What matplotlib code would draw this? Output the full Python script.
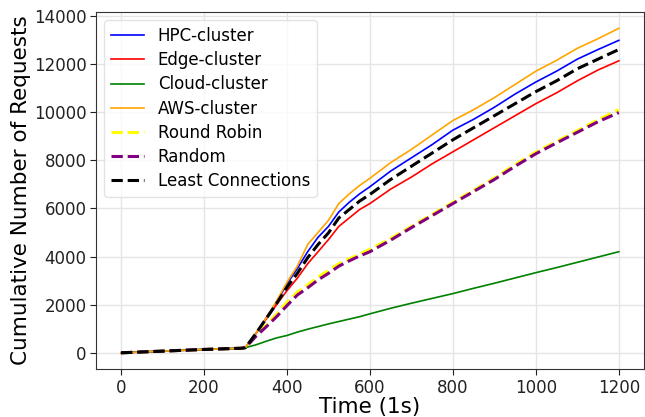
import numpy as np
import matplotlib
matplotlib.use('Agg')
import matplotlib.pyplot as plt

# time axis (seconds)
time = [0, 100, 200, 290, 300, 325, 350, 375, 400, 425, 450, 475, 500, 525, 550,
        575, 600, 650, 700, 750, 800, 850, 900, 950, 1000, 1050, 1100, 1150, 1200]

hpc = [0, 70, 140, 190, 215, 800, 1450, 2100, 2860, 3500, 4200, 4800, 5250, 5850, 6250,
       6600, 6900, 7550, 8100, 8650, 9250, 9700, 10200, 10750, 11250, 11700, 12200, 12600, 12980]
edge = [0, 70, 140, 190, 215, 800, 1400, 2000, 2580, 3100, 3700, 4200, 4700, 5250, 5600,
        5950, 6200, 6800, 7300, 7850, 8350, 8850, 9350, 9850, 10350, 10800, 11300, 11750, 12130]
cloud = [0, 70, 140, 190, 215, 330, 480, 620, 720, 860, 980, 1090, 1200, 1300, 1400,
         1500, 1620, 1850, 2060, 2260, 2460, 2680, 2890, 3110, 3330, 3540, 3760, 3980, 4200]
aws = [0, 70, 140, 190, 215, 800, 1450, 2150, 2930, 3600, 4500, 5000, 5500, 6200, 6600,
       6950, 7250, 7900, 8450, 9050, 9650, 10100, 10600, 11150, 11700, 12150, 12650, 13050, 13480]
round_robin = [0, 70, 140, 190, 215, 720, 1150, 1600, 2100, 2520, 2820, 3150, 3420, 3700, 3900,
               4100, 4300, 4750, 5250, 5750, 6250, 6750, 7260, 7820, 8340, 8780, 9230, 9680, 10100]
random_lb = [0, 70, 140, 190, 215, 680, 1080, 1500, 1960, 2400, 2700, 3030, 3300, 3600, 3820,
             4020, 4200, 4680, 5200, 5700, 6200, 6700, 7200, 7750, 8270, 8720, 9160, 9600, 9980]
least_conn = [0, 70, 140, 190, 215, 800, 1420, 2050, 2720, 3300, 3950, 4500, 4980, 5600, 5950,
              6300, 6580, 7200, 7750, 8300, 8850, 9350, 9850, 10350, 10850, 11300, 11800, 12200, 12600]

fig = plt.figure(figsize=(6.45, 4.17), dpi=100)
ax = fig.add_axes([0.149, 0.115, 0.849, 0.856])

ax.plot(time, hpc, color='blue', lw=1.2, label='HPC-cluster')
ax.plot(time, edge, color='red', lw=1.2, label='Edge-cluster')
ax.plot(time, cloud, color='green', lw=1.2, label='Cloud-cluster')
ax.plot(time, aws, color='orange', lw=1.2, label='AWS-cluster')
ax.plot(time, round_robin, color='yellow', lw=2.2, ls='--', label='Round Robin')
ax.plot(time, random_lb, color='purple', lw=2.2, ls='--', label='Random')
ax.plot(time, least_conn, color='black', lw=2.2, ls='--', label='Least Connections')

ax.grid(True, color='#e5e5e5', lw=1)
ax.set_axisbelow(True)
for s in ax.spines.values():
    s.set_color('#333333')
ax.tick_params(labelsize=12, colors='#222222', length=4, pad=3)
ax.set_yticks(range(0, 14001, 2000))
ax.set_xlabel('Time (1s)', fontsize=15.5, labelpad=0)
ax.set_ylabel('Cumulative Number of Requests', fontsize=15.5, labelpad=2)
ax.legend(loc='upper left', fontsize=12, labelspacing=0.37, framealpha=0.8, edgecolor='#dddddd')

fig.savefig('out.png', dpi=100)
